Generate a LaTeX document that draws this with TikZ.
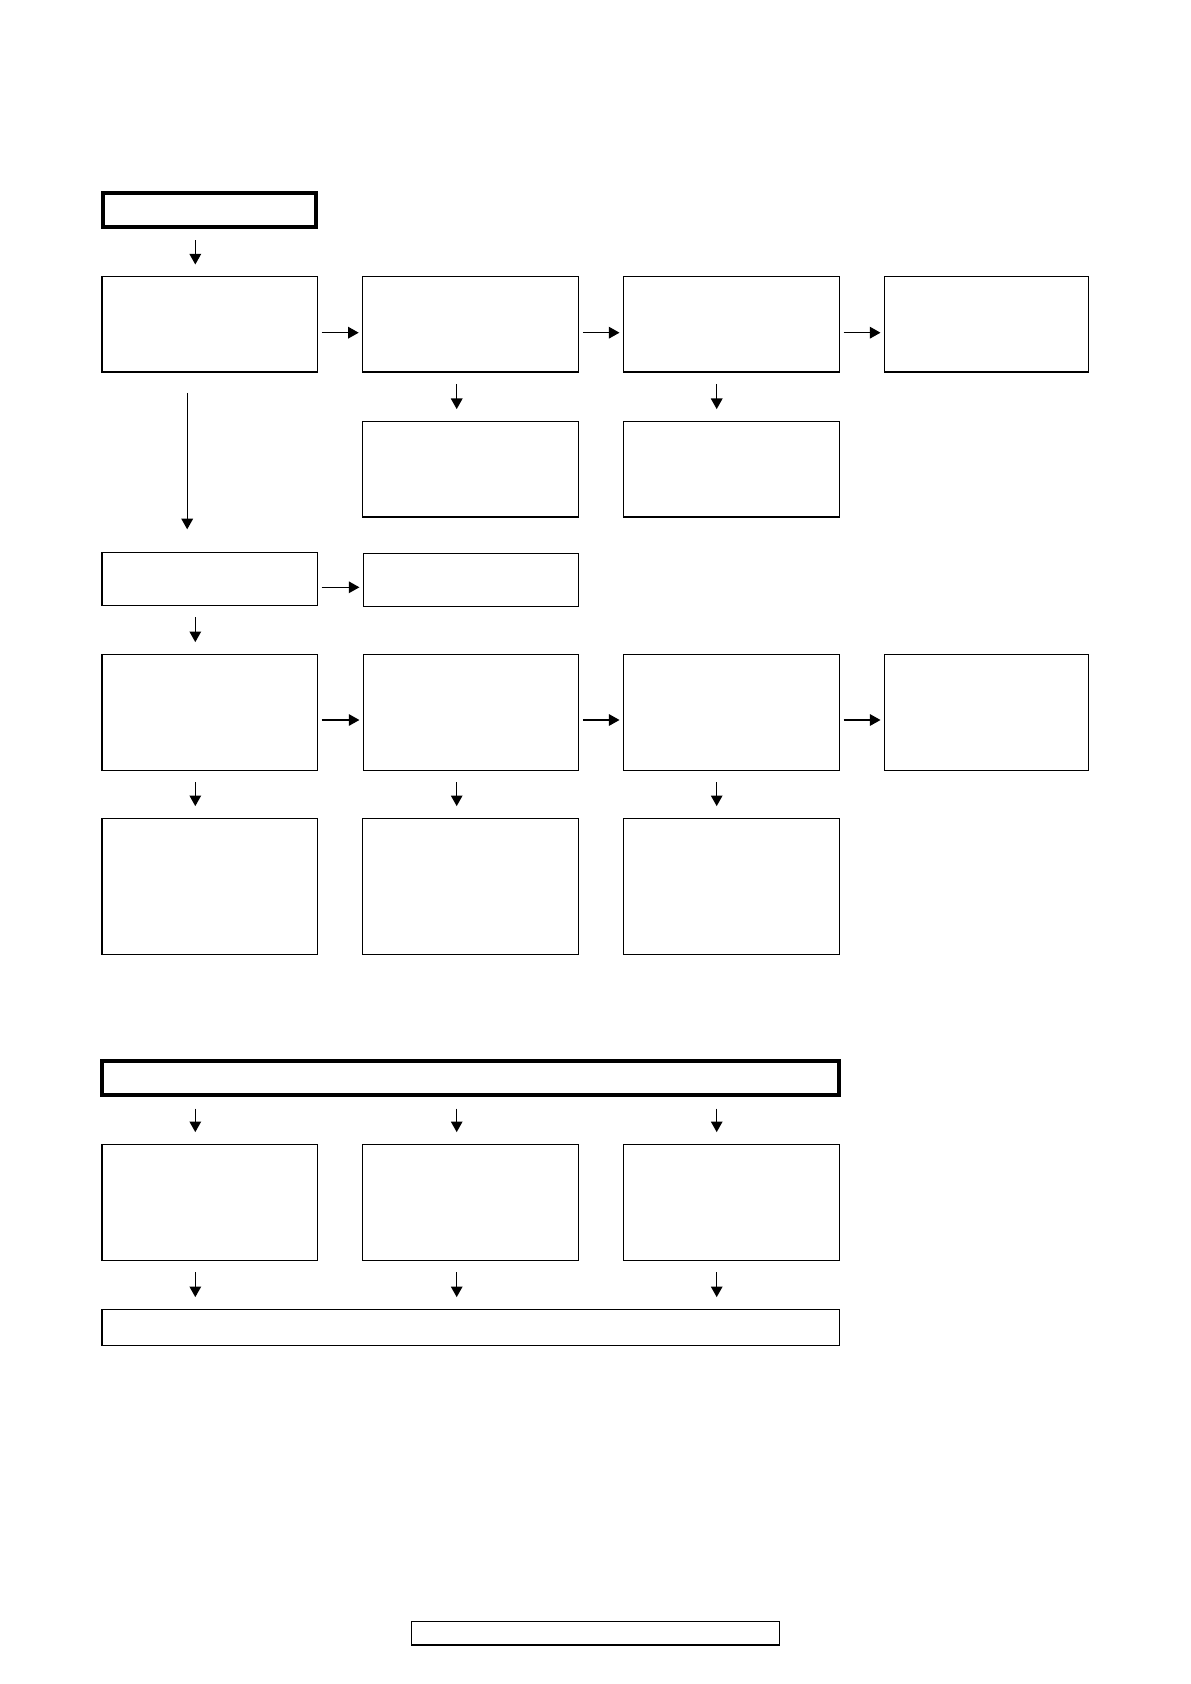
\documentclass[tikz,border=0pt]{standalone}
\usepackage{tikz}
\usetikzlibrary{arrows.meta, fit, calc}
\tikzset{>={Triangle[length=5.3pt,width=5.8pt]}}
\tikzset{
  blk/.style={draw, line width=0.6pt, inner sep=0pt},
  hdr/.style={draw, line width=2pt, inner sep=0pt},
  ftr/.style={draw, line width=0.8pt, inner sep=0pt},
  sidearr/.style={->, line width=0.6pt, shorten <=1.8pt, shorten >=1.6pt},
  downarr/.style={->, line width=0.6pt, shorten <=5.6pt, shorten >=5.8pt}
}

\begin{document}
\begin{tikzpicture}[x=0.5pt, y=-0.5pt]
		\useasboundingbox (0,0) rectangle (1190,1684);
		% where the arrows run
		\coordinate (x1) at (195.3,0);
		\coordinate (x2) at (456.7,0);
		\coordinate (x3) at (716.7,0);
		\coordinate (xl) at (187.2,0);
		\coordinate (y1) at (0,332.7);
		\coordinate (y3) at (0,587.3);
		\coordinate (y4) at (0,720);
		% upper block
		\node[hdr, fit={(102.7,192.7) (316.3,227.3)}] (hd1) {};
		\node[blk, fit={(102,276.7) (317.3,372)}] (a1) {};
		\node[blk, fit={(362.5,276.7) (578.7,372)}] (a2) {};
		\node[blk, fit={(623.3,276.7) (839.5,372)}] (a3) {};
		\node[blk, fit={(884.3,276.7) (1088.7,372)}] (a4) {};
		\node[blk, fit={(362.5,421.3) (578.7,517)}] (b2) {};
		\node[blk, fit={(623.3,421.3) (839.5,517)}] (b3) {};
		\node[blk, fit={(102,552.3) (317.3,605.3)}] (c1) {};
		\node[blk, fit={(363.2,553.3) (578.7,606.3)}] (c2) {};
		\node[blk, fit={(102,654.3) (317.3,770.3)}] (d1) {};
		\node[blk, fit={(363.2,654.3) (578.7,770.3)}] (d2) {};
		\node[blk, fit={(623.3,654.3) (839.5,770.3)}] (d3) {};
		\node[blk, fit={(884.3,654.3) (1088.7,770.3)}] (d4) {};
		\node[blk, fit={(102,818.3) (317.3,954.3)}] (e1) {};
		\node[blk, fit={(362.5,818.3) (578.7,954.3)}] (e2) {};
		\node[blk, fit={(623.3,818.3) (839.5,954.3)}] (e3) {};
		\draw[downarr] (hd1.south -| x1) -- (a1.north -| x1);
		\draw[sidearr] (a1.east |- y1) -- (a2.west |- y1);
		\draw[sidearr] (a2.east |- y1) -- (a3.west |- y1);
		\draw[sidearr] (a3.east |- y1) -- (a4.west |- y1);
		\draw[downarr] (a2.south -| x2) -- (b2.north -| x2);
		\draw[downarr] (a3.south -| x3) -- (b3.north -| x3);
		\draw[->, line width=0.6pt, shorten <=10.2pt, shorten >=11.2pt] (a1.south -| xl) -- (c1.north -| xl);
		\draw[sidearr] (c1.east |- y3) -- (c2.west |- y3);
		\draw[downarr] (c1.south -| x1) -- (d1.north -| x1);
		\draw[sidearr] (d1.east |- y4) -- (d2.west |- y4);
		\draw[sidearr] (d2.east |- y4) -- (d3.west |- y4);
		\draw[sidearr] (d3.east |- y4) -- (d4.west |- y4);
		\draw[downarr] (d1.south -| x1) -- (e1.north -| x1);
		\draw[downarr] (d2.south -| x2) -- (e2.north -| x2);
		\draw[downarr] (d3.south -| x3) -- (e3.north -| x3);
		% lower block
		\node[hdr, fit={(102,1061.3) (838.7,1095.3)}] (hd2) {};
		\node[blk, fit={(102,1144.3) (317.3,1260.3)}] (f1) {};
		\node[blk, fit={(362.5,1144.3) (578.7,1260.3)}] (f2) {};
		\node[blk, fit={(623.3,1144.3) (839.5,1260.3)}] (f3) {};
		\node[blk, fit={(102,1309.3) (839.5,1345.3)}] (g1) {};
		\foreach \i/\c in {1/x1, 2/x2, 3/x3}{
			\draw[downarr] (hd2.south -| \c) -- (f\i.north -| \c);
			\draw[downarr] (f\i.south -| \c) -- (g1.north -| \c);
		}
		% footer
		\node[ftr, fit={(411.5,1621.3) (779.5,1645)}] (ft) {};
	\end{tikzpicture}
\end{document}
